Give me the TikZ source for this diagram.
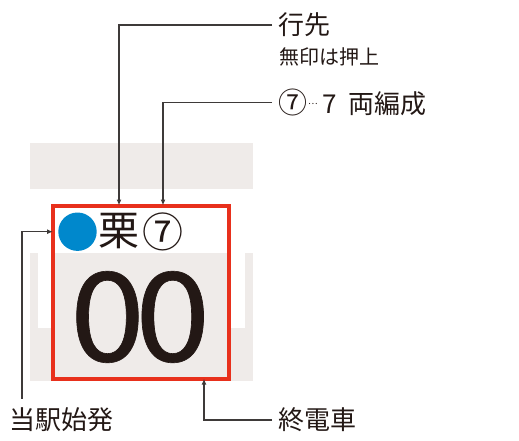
\documentclass[tikz,border=0pt]{standalone}
\usepackage{fontspec}
\usepackage{graphicx}
\setmainfont{Noto Sans CJK JP}
\usetikzlibrary{arrows.meta}
\definecolor{boardred}{RGB}{232,48,28}
\definecolor{dotblue}{RGB}{0,136,204}
\definecolor{panelgray}{RGB}{239,235,233}
\definecolor{inkblack}{RGB}{35,24,21}
\definecolor{linegray}{RGB}{62,58,57}
\tikzset{
  lbl/.style={anchor=west,inner xsep=6pt,inner ysep=0pt,text=inkblack,font=\fontsize{26}{26}\selectfont},
  arr/.style={draw=linegray,line width=1.2pt,-{Latex[length=6pt,width=5pt]}},
  big/.style={inner sep=0pt,text=inkblack,font=\fontsize{41}{41}\selectfont}
}
\begin{document}
\begin{tikzpicture}[x=1pt,y=-1pt]
\useasboundingbox (0,0) rectangle (519,440);
% background panels
\fill[panelgray] (30,143) rectangle (253,189);
\fill[panelgray] (30,253) rectangle (253,381);
\fill[white] (38,253) rectangle (245,328);
\fill[white] (53,205.5) rectangle (229,253);
\fill[panelgray] (53,253) rectangle (229,378.7);
% board frame
\node[draw=boardred,line width=4pt,outer sep=0pt,inner sep=0pt,anchor=north west,minimum width=176pt,minimum height=173.2pt] (board) at (53,205.5) {};
% contents
\node[circle,fill=dotblue,inner sep=0pt,minimum size=38.4pt] (dot) at (77.5,231.7) {};
\node[big] (kuri) at (119,231) {栗};
\node[big] (seven) at (163,232) {⑦};
\node[inner sep=0pt,text=inkblack,font=\fontsize{124}{124}\selectfont] (num) at (140,317) {\addfontfeature{FakeBold=0.5}\scalebox{1.09}[1]{0\kern-9pt0}};
% labels
\node[lbl] (dest) at (272,25) {行先};
\node[lbl,font=\fontsize{20}{20}\selectfont] (destnote) at (273,56.5) {無印は押上};
\node[lbl] (cars) at (272,102.5) {{\fontsize{29}{29}\selectfont ⑦}\kern1pt\raisebox{9pt}{\fontsize{9}{9}\selectfont …}\kern5pt7\kern11pt両編成};
\node[lbl,inner ysep=9pt] (hatsu) at (3,420) {当駅始発};
\node[lbl] (shuden) at (272,420) {終電車};
% connectors
\draw[arr] (dest.west) -| (kuri.center |- board.north);
\draw[arr] (cars.west) -| (seven.center |- board.north);
\draw[arr] ([xshift=19pt]hatsu.north west) |- (board.west |- dot.center);
\draw[arr] (shuden.west) -| ([xshift=-25pt]board.south east);
\end{tikzpicture}
\end{document}
